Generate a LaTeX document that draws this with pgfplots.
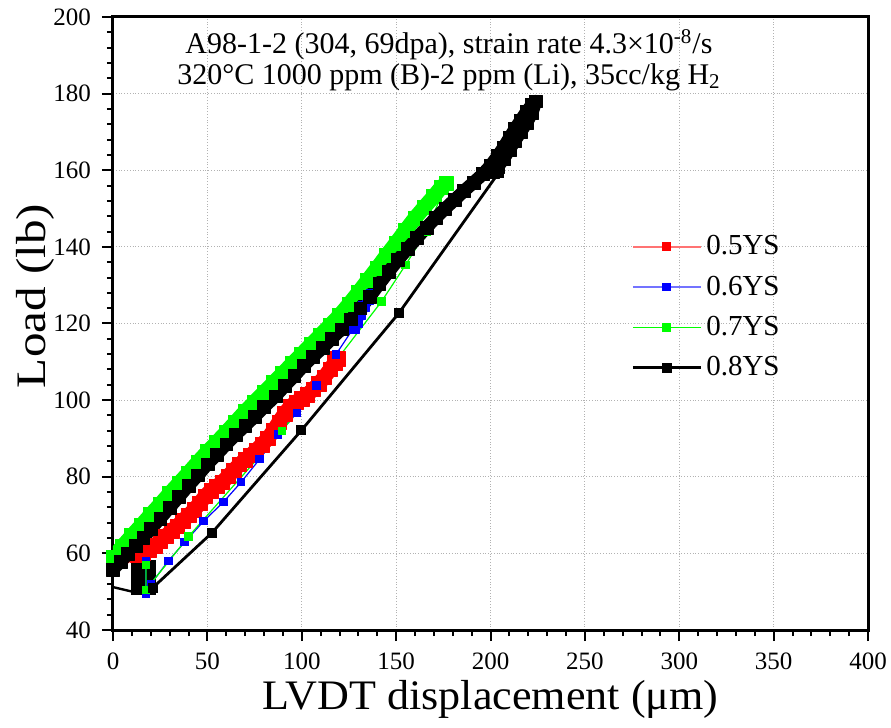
\documentclass[border=0pt]{standalone}
\usepackage{fontspec}
\setmainfont{Liberation Serif}
\newfontfamily\xlabfont[FakeStretch=1.05]{Liberation Serif}
\newfontfamily\ylabfont[FakeStretch=1.17]{Liberation Serif}
\usepackage{pgfplots}
\pgfplotsset{compat=1.18}
\usetikzlibrary{calc}
\begin{document}
\begin{tikzpicture}
\begin{axis}[
  scale only axis, width=377.5pt, height=306.5pt,
  xmin=0, xmax=400, ymin=40, ymax=200,
  xtick={0,50,...,400}, ytick={40,60,...,200},
  minor x tick num=4, minor y tick num=4,
  tick align=outside, tick pos=left,
  major tick length=5.5pt, minor tick length=3pt,
  every tick/.style={black, line width=1pt},
  axis line style={line width=1.5pt},
  grid=major, major grid style={densely dotted, black!30, line width=0.6pt},
  /pgf/number format/assume math mode=true,
  ticklabel style={font=\fontsize{12.5}{14}\selectfont},
  xticklabel style={yshift=-2.5pt},
  yticklabel style={xshift=-2pt},
  xlabel={\xlabfont LVDT displacement (μm)}, ylabel={\ylabfont Load (lb)},
  xlabel style={font=\fontsize{21}{24}\selectfont, at={(axis description cs:0.5,-0.114)}, anchor=center},
  ylabel style={font=\fontsize{21}{24}\selectfont, at={(axis description cs:-0.103,0.545)}, anchor=center},
  legend style={draw=none, fill=none, at={(axis description cs:0.678,0.657)}, anchor=north west,
    font=\fontsize{14.5}{17}\selectfont, row sep=5pt},
  legend cell align=left,
  legend image code/.code={\draw[mark repeat=2,mark phase=2,#1] plot coordinates {(0pt,0pt) (17pt,0pt) (34pt,0pt)};},
]
\addlegendimage{red!55, line width=0.8pt, mark=square*, mark options={solid, fill=red, draw=red}, mark size=1.8pt}
\addlegendentry{0.5YS}
\addlegendimage{blue!55, line width=0.8pt, mark=square*, mark options={solid, fill=blue, draw=blue}, mark size=1.8pt}
\addlegendentry{0.6YS}
\addlegendimage{green, line width=0.8pt, mark=square*, mark options={solid, fill=green, draw=green}, mark size=1.8pt}
\addlegendentry{0.7YS}
\addlegendimage{black, line width=1.5pt, mark=square*, mark options={solid, fill=black, draw=black}, mark size=1.8pt}
\addlegendentry{0.8YS}

% black start cluster and short line
\addplot[forget plot, black, line width=6pt, fill=black] coordinates {(12.6,50.8)(19.5,50.8)(19.5,56.7)(12.6,56.7)} -- cycle;
\addplot[forget plot, black, line width=1.2pt] coordinates {(0,51.2)(10.3,50)};

% red 0.5YS
\addplot[forget plot, red, line width=0.6pt] coordinates {(0,54.5)(13,59.5)};
\addplot[forget plot, red, line width=7.5pt, line join=round, mark=square*, mark size=3.6pt, mark options={line width=0.2pt}] coordinates {
(13,59.5)(16,60.1)(19,60.9)(22,62)(25,63.2)(28,64.5)(31,65.9)(34,67.1)(37,68.5)(40,69.9)(43,71.4)(46,73.1)(49,75)(52,76.4)(55,77.5)(58,78.6)(61,80.1)(64,81.7)(67,83.2)(70,84.4)(73,85.6)(76,87)(79,88.4)(82,90)(85,92)(88,94.3)(91,96.5)(94,98.3)(97,99.5)(100,100.4)(103,101.4)(106,102.8)(109,104.3)(112,106)(115,108)(117.5,109.8)(119,110.8)};

% blue 0.6YS
\addplot[forget plot, blue, line width=0.6pt, mark=square*, mark size=1.8pt] coordinates {
(17.4,57.9)(17.4,49.5)(20,52)(29.3,58)(37.9,62.9)(48,68.4)(58.5,73.4)(67.9,78.6)(77.7,84.6)(87.4,91)(97.5,96.7)(107.8,103.8)(118.1,111.9)(127,118.5)};
\addplot[forget plot, blue, line width=5.5pt, line join=round, mark=square*, mark size=2.7pt, mark options={line width=0.2pt}] coordinates {
(127.5,119)(129,120.5)(131,122.5)(133,124.5)(135,126.5)(136,127.6)};

% green 0.7YS
\addplot[forget plot, green, line width=7.5pt, line join=round, mark=square*, mark size=3.6pt, mark options={line width=0.2pt}] coordinates {
(0,59)(5,61.8)(10,64.6)(15,67.3)(20,70.1)(25,72.8)(30,75.6)(35,78.3)(40,81)(45,83.8)(50,86.5)(55,89)(60,91.6)(65,94.3)(70,97)(75,99.5)(80,102)(85,104.5)(90,107)(95,109.5)(100,112)(105,114.5)(110,117)(115,119.5)(120,122.1)(125,125)(130,128.1)(135,131.3)(140,134.5)(145,137.8)(150,141)(155,144.3)(160,147.5)(165,150.4)(170,153.2)(174,155.6)(176.5,156.6)};
\addplot[forget plot, green, line width=0.6pt, mark=square*, mark size=1.8pt] coordinates {
(176.5,156.5)(166,144)(154.9,135.2)(142.2,125.7)(89.5,91.9)(40,64.4)(17.5,50.5)(17.5,57)};

% black 0.8YS
\addplot[forget plot, black, line width=6.5pt, line join=round, mark=square*, mark size=3.2pt, mark options={line width=0.2pt}] coordinates {
(0,55.8)(4,57.9)(8,59.9)(12,61.9)(16,64)(20,66.4)(25,69.1)(30,72)(35,74.8)(40,77.7)(45,80.4)(50,83.3)(55,85.8)(60,88.5)(65,91)(70,93.3)(75,95.7)(80,98.2)(86,101)(91,103.7)(96,106.3)(101,109)(106,111.4)(111,113.6)(116,116.1)(121,118.5)(126,121.1)(131,124)(136,127)(141,130.3)(146,133.5)(151,136.6)(156,139.5)(161,142.3)(166,145)(171,147.6)(176,150)(181,152.3)(186,154.6)(191,156.8)(196,159)(200,161.2)(204,163.8)(207,166)(210,168.4)(213,170.8)(216,173)(219,175.2)(222,177.1)(224,178)(222,175)(219,172.3)(216,170)(213,167.8)(210,165.4)(207,163)(204,161)(201,159.5)};
\addplot[forget plot, black, line width=1.4pt, mark=square*, mark size=1.8pt] coordinates {
(210,168)(204.4,159.4)(151.6,122.8)(99.8,92.1)(52.5,65.4)(21,51)};

\node[font=\fontsize{15}{18}\selectfont, anchor=base] at (axis description cs:0.445,0.940) {A98-1-2 (304, 69dpa), strain rate 4.3×10\textsuperscript{-8}/s};
\node[font=\fontsize{15}{18}\selectfont, anchor=base] at (axis description cs:0.445,0.890) {320°C 1000 ppm (B)-2 ppm (Li), 35cc/kg H\textsubscript{2}};
\end{axis}
\pgfresetboundingbox
\path[use as bounding box] ($(current axis.south west)+(-56.5pt,-48.5pt)$) rectangle ($(current axis.north east)+(11.5pt,8.5pt)$);
\end{tikzpicture}
\end{document}
